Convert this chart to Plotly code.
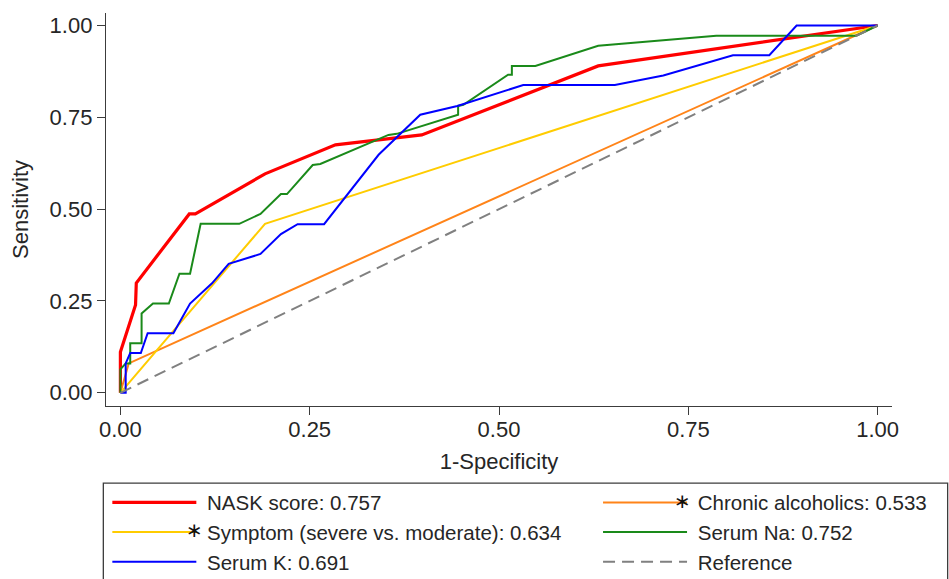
import plotly.graph_objects as go

# ---- data ----
nask_x = [0, 0, 0.020, 0.021, 0.091, 0.099, 0.191, 0.284, 0.398, 0.631, 1.0]
nask_y = [0, 0.111, 0.239, 0.299, 0.487, 0.487, 0.596, 0.675, 0.702, 0.890, 1.0]

alc_x = [0, 0.011, 1.0]
alc_y = [0, 0.080, 1.0]

sym_x = [0, 0.191, 1.0]
sym_y = [0, 0.460, 1.0]

na_x = [0, 0, 0.007, 0.013, 0.013, 0.028, 0.028, 0.043, 0.064, 0.078, 0.092, 0.106,
        0.157, 0.185, 0.212, 0.220, 0.254, 0.264, 0.354, 0.365, 0.446, 0.446, 0.453,
        0.512, 0.517, 0.517, 0.548, 0.631, 0.787, 0.972, 1.0]
na_y = [0, 0.064, 0.080, 0.080, 0.135, 0.135, 0.216, 0.243, 0.243, 0.324, 0.324, 0.460,
        0.460, 0.487, 0.541, 0.541, 0.620, 0.623, 0.702, 0.705, 0.757, 0.781, 0.784,
        0.866, 0.866, 0.890, 0.890, 0.945, 0.972, 0.972, 1.0]

k_x = [0, 0.007, 0.007, 0.013, 0.027, 0.036, 0.070, 0.092, 0.121, 0.143, 0.185, 0.212,
       0.234, 0.269, 0.341, 0.396, 0.445, 0.532, 0.653, 0.717, 0.809, 0.857, 0.893, 1.0]
k_y = [0, 0, 0.080, 0.108, 0.108, 0.162, 0.162, 0.243, 0.298, 0.351, 0.378, 0.432,
       0.459, 0.459, 0.648, 0.757, 0.781, 0.838, 0.838, 0.864, 0.919, 0.919, 1.0, 1.0]

ref_x = [0, 1]
ref_y = [0, 1]

tick_vals = [0, 0.25, 0.5, 0.75, 1.0]
tick_text = ["0.00", "0.25", "0.50", "0.75", "1.00"]

names = ["NASK score: 0.757", "Chronic alcoholics: 0.533",
         "Symptom (severe vs. moderate): 0.634", "Serum Na: 0.752",
         "Serum K: 0.691", "Reference"]

FONT = "Liberation Sans, Arial, sans-serif"
TXT = "#262626"
AX = "#3c3c3c"
PAD = "\u00a0"

fig = go.Figure()
series = [
    (nask_x, nask_y, names[0], "#ff0000", 3.2, "solid", "legend"),
    (alc_x, alc_y, names[1], "#ff8419", 2, "solid", "legend2"),
    (sym_x, sym_y, names[2], "#ffcc00", 2, "solid", "legend"),
    (na_x, na_y, names[3], "#1a8a1a", 2, "solid", "legend2"),
    (k_x, k_y, names[4], "#0000ff", 2, "solid", "legend"),
    (ref_x, ref_y, names[5], "#808080", 2, "12px,7px", "legend2"),
]
for xs, ys, nm, col, w, dash, lg in series:
    fig.add_trace(go.Scatter(x=xs, y=ys, mode="lines", name=PAD + nm, legend=lg,
                             line=dict(color=col, width=w, dash=dash)))

axis_common = dict(
    showline=True, linecolor=AX, linewidth=1.3, mirror=False,
    ticks="outside", ticklen=8, tickcolor=AX, tickwidth=1.3,
    showgrid=False, zeroline=False,
    tickvals=tick_vals, ticktext=tick_text,
    tickfont=dict(family=FONT, size=22, color=TXT),
)

fig.update_layout(
    width=949, height=579,
    margin=dict(l=106, r=57, t=13, b=173, autoexpand=False),
    paper_bgcolor="white", plot_bgcolor="white",
    font=dict(family=FONT, size=21, color=TXT),
    xaxis=dict(range=[-0.019, 1.019], ticklabelstandoff=-5,
               title=dict(text="1-Specificity", font=dict(size=22, color=TXT), standoff=13),
               **axis_common),
    yaxis=dict(range=[-0.036, 1.034],
               title=dict(text="Sensitivity", font=dict(size=22, color=TXT), standoff=14),
               **axis_common),
    legend=dict(x=0.0017, y=-0.195, xanchor="left", yanchor="top",
                bgcolor="rgba(0,0,0,0)", borderwidth=0, itemwidth=84,
                font=dict(family=FONT, size=20.5, color=TXT), tracegroupgap=0),
    legend2=dict(x=0.626, y=-0.195, xanchor="left", yanchor="top",
                 bgcolor="rgba(0,0,0,0)", borderwidth=0, itemwidth=84,
                 font=dict(family=FONT, size=20.5, color=TXT), tracegroupgap=0),
    showlegend=True,
)

# legend enclosing box
fig.add_shape(type="rect", xref="paper", yref="paper",
              x0=-0.0034, x1=1.0708, y0=-0.4685, y1=-0.196,
              line=dict(color=AX, width=1.3), fillcolor="rgba(0,0,0,0)", layer="below")

# significance asterisks
for ax_, ay_ in [((194 - 105.7) / 786.6, (406 - 530) / 392.7), ((683 - 105.7) / 786.6, (406 - 501) / 392.7)]:
    fig.add_annotation(x=ax_, y=ay_, xref="paper", yref="paper", text="∗",
                       showarrow=False, font=dict(family="DejaVu Sans", size=20, color="#111"),
                       xanchor="center", yanchor="middle")

fig.write_html("out.html")
